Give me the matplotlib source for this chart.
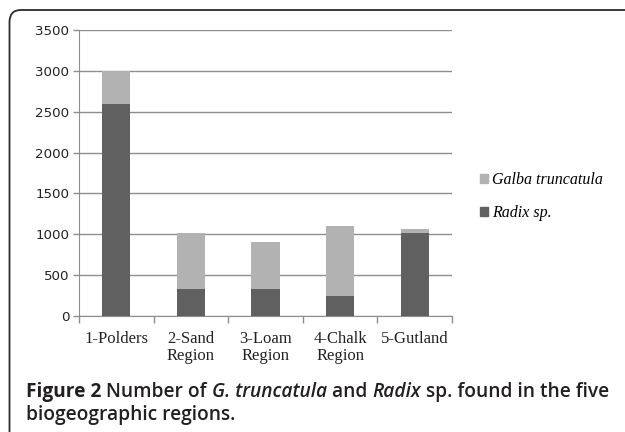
import numpy as np
import matplotlib
matplotlib.use("Agg")
from matplotlib import pyplot as plt
from matplotlib.path import Path
from matplotlib.patches import PathPatch, Patch
from matplotlib import transforms

regions = ["1-Polders", "2-Sand\nRegion", "3-Loam\nRegion", "4-Chalk\nRegion", "5-Gutland"]
radix = [2600, 330, 330, 250, 1020]
galba = [400, 690, 570, 850, 40]
y_ticks = [0, 500, 1000, 1500, 2000, 2500, 3000, 3500]

W, H = 625, 432
DARK = "#606060"
LIGHT = "#b2b2b2"
GRID = "#8e8e8e"

fig = plt.figure(figsize=(W / 100, H / 100), dpi=100)
ax = fig.add_axes([79 / W, 1 - 316 / H, 373 / W, 286 / H])

x = np.arange(len(regions))
ax.bar(x, radix, width=0.38, color=DARK, zorder=3)
ax.bar(x, galba, width=0.38, bottom=radix, color=LIGHT, zorder=3)

ax.set_xlim(-0.5, len(regions) - 0.5)
ax.set_ylim(0, 3500)
ax.set_yticks(y_ticks)
ax.set_yticklabels([str(v) for v in y_ticks], fontsize=9.6, family="DejaVu Sans", color="#222222")
ax.yaxis.grid(True, color=GRID, linewidth=1, zorder=0)

# category labels sit between boundary ticks
ax.set_xticks(x)
ax.set_xticklabels(regions, family="Liberation Serif", fontsize=12, color="#222222", linespacing=1.1)
ax.tick_params(axis="x", which="major", length=0, pad=11)
ax.set_xticks(np.arange(-0.5, len(regions)), minor=True)
ax.tick_params(axis="x", which="minor", length=5, color=GRID, width=1)
ax.tick_params(axis="y", length=4, color=GRID, width=1, pad=3)

for side in ["top", "right"]:
    ax.spines[side].set_visible(False)
ax.spines["left"].set_color(GRID)
ax.spines["bottom"].set_color(GRID)

handles = [Patch(color=LIGHT), Patch(color=DARK)]
fig.legend(handles, ["Galba truncatula", "Radix sp."], loc="upper left",
           bbox_to_anchor=(466 / W, 1 - 158 / H), frameon=False,
           prop={"family": "Liberation Serif", "style": "italic", "size": 11.5},
           handlelength=0.45, handleheight=0.45, handletextpad=0.3, labelspacing=1.05)

# rounded frame (only top and left edges visible)
px = transforms.Affine2D().scale(1 / W, -1 / H).translate(0, 1) + fig.transFigure
verts = [(9.5, 440), (9.5, 22), (9.5, 10), (21, 10), (640, 10)]
codes = [Path.MOVETO, Path.LINETO, Path.CURVE3, Path.CURVE3, Path.LINETO]
fig.patches.append(PathPatch(Path(verts, codes), transform=px, fill=False,
                             edgecolor="#2a2a2a", linewidth=1.3))

# caption built from pieces with different styles
cap = "#231f20"
fs = 13.8
fam = "Open Sans"
pieces = [(" Number of ", "normal"), ("G. truncatula", "italic"), (" and ", "normal"),
          ("Radix", "italic"), (" sp. found in the five", "normal")]
prev = fig.text(26 / W, 1 - 397 / H, "Figure 2", fontsize=fs, family=fam, weight="bold", color=cap)
for text, style in pieces:
    prev = ax.annotate(text, xy=(1, 0), xycoords=prev, va="bottom", ha="left",
                       fontsize=fs, family=fam, style=style, weight="semibold", color=cap,
                       annotation_clip=False)
fig.text(26 / W, 1 - 420 / H, "biogeographic regions.", fontsize=fs, family=fam,
         weight="semibold", color=cap)

fig.savefig("out.png", dpi=100)
